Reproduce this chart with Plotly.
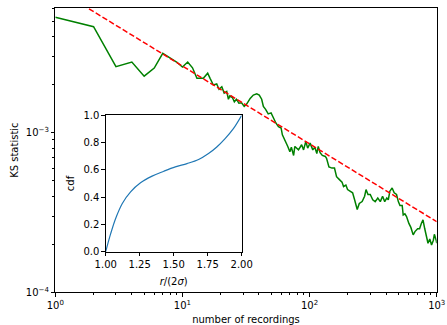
import plotly.graph_objects as go

# ---- main panel data ----
n_rec = [1, 2, 3, 4, 5, 6, 7, 8, 9, 10, 11, 12, 13, 14.6, 15.8, 16.5, 17.5, 18.6, 19.4,
         20.4, 21.3, 22.3, 23.0, 23.6, 24.7, 25.6, 26.6, 27.8, 29.2, 30.6, 32.0, 34.1,
         36.1, 38.4, 40.2, 42.0, 43.3, 45.1, 47.3, 49.8, 52.0, 54.3, 56.9, 59.7, 61.1,
         64.2, 67.4, 70.0, 71.9, 74.9, 76.6, 81.8, 86.6, 89.7, 93.4, 96.6, 101, 106,
         110, 114, 117, 121, 126, 133, 136, 142, 150, 157, 163, 171, 180, 185, 193,
         199, 208, 218, 226, 237, 246, 259, 271, 278, 288, 300, 314, 328, 344, 360,
         375, 390, 405, 416, 428, 446, 463, 483, 499, 514, 535, 545, 562, 579, 604,
         626, 653, 674, 708, 733, 757, 780, 805, 830, 854, 882, 911, 941, 958, 990,
         1000]
ks_milli = [5.28, 4.61, 2.59, 2.77, 2.26, 2.54, 3.14, 2.95, 2.77, 2.58, 2.77, 2.55, 2.19,
            2.19, 2.36, 2.19, 1.99, 2.02, 1.87, 1.94, 1.77, 1.81, 1.62, 1.70, 1.66, 1.56,
            1.62, 1.53, 1.54, 1.46, 1.51, 1.64, 1.72, 1.75, 1.72, 1.62, 1.46, 1.40, 1.31,
            1.33, 1.23, 1.15, 1.09, 1.07, 0.97, 0.90, 0.82, 0.76, 0.81, 0.72, 0.82, 0.78,
            0.84, 0.78, 0.88, 0.80, 0.86, 0.78, 0.81, 0.74, 0.82, 0.75, 0.72, 0.71, 0.69,
            0.61, 0.60, 0.60, 0.53, 0.51, 0.49, 0.46, 0.47, 0.44, 0.43, 0.42, 0.38, 0.33,
            0.36, 0.37, 0.40, 0.44, 0.41, 0.41, 0.38, 0.37, 0.39, 0.37, 0.40, 0.37, 0.39,
            0.38, 0.43, 0.45, 0.42, 0.41, 0.37, 0.35, 0.35, 0.305, 0.31, 0.298, 0.27,
            0.255, 0.229, 0.24, 0.25, 0.25, 0.27, 0.284, 0.25, 0.229, 0.203, 0.216,
            0.198, 0.212, 0.231, 0.212, 0.203]
ks = [v * 1e-3 for v in ks_milli]

fit_n = [1, 1000]
fit_ks = [8.04e-3, 2.77e-4]

# ---- inset data ----
r_over_2sigma = [1.0, 1.037, 1.073, 1.122, 1.183, 1.256, 1.341, 1.427, 1.512, 1.598,
                 1.683, 1.756, 1.817, 1.878, 1.939, 2.0]
cdf = [0.0, 0.134, 0.244, 0.354, 0.439, 0.505, 0.554, 0.590, 0.622, 0.646,
       0.676, 0.720, 0.768, 0.829, 0.902, 1.0]

x_major = [1, 10, 100, 1000]
x_major_text = ["10<sup>0</sup>", "10<sup>1</sup>", "10<sup>2</sup>", "10<sup>3</sup>"]
y_major = [1e-4, 1e-3]
y_major_text = ["10<sup>\u22124</sup>", "10<sup>\u22123</sup>"]

x_minor = [m * d for d in (1, 10, 100) for m in range(2, 10)]
y_minor = [m * d for d in (1e-4, 1e-3) for m in range(2, 10) if m * d < 6.1e-3]

FONT = "DejaVu Sans"

fig = go.Figure()
fig.add_trace(go.Scatter(x=n_rec, y=ks, mode="lines",
                         line=dict(color="#008000", width=1.5),
                         xaxis="x", yaxis="y", showlegend=False))
fig.add_trace(go.Scatter(x=fit_n, y=fit_ks, mode="lines",
                         line=dict(color="#ff0000", width=1.5, dash="5.5px,2.4px"),
                         xaxis="x", yaxis="y", showlegend=False))
fig.add_trace(go.Scatter(x=r_over_2sigma, y=cdf, mode="lines",
                         line=dict(color="#1f77b4", width=1.2, shape="spline"),
                         xaxis="x2", yaxis="y2", showlegend=False))

axis_common = dict(showgrid=False, zeroline=False, showline=True, linecolor="black",
                   linewidth=0.8, mirror=True, ticks="outside", ticklen=3.5,
                   tickwidth=0.8, tickcolor="black", automargin=False,
                   tickfont=dict(family=FONT, size=10, color="black"))

fig.update_layout(
    width=447, height=325,
    margin=dict(l=0, r=0, t=0, b=0, autoexpand=False),
    paper_bgcolor="white", plot_bgcolor="white",
    font=dict(family=FONT, size=10, color="black"),
    xaxis=dict(type="log", range=[0, 3], domain=[0.1237, 0.977],
               tickmode="array", tickvals=x_major, ticktext=x_major_text,
               minor=dict(tickmode="array", tickvals=x_minor, ticks="outside",
                          ticklen=2, tickwidth=0.6, tickcolor="black"),
               title=dict(text="number of recordings",
                          font=dict(family=FONT, size=10), standoff=8),
               anchor="y", **axis_common),
    yaxis=dict(type="log", range=[-4, -2.219], domain=[0.1006, 0.9754],
               tickmode="array", tickvals=y_major, ticktext=y_major_text,
               minor=dict(tickmode="array", tickvals=y_minor, ticks="outside",
                          ticklen=2, tickwidth=0.6, tickcolor="black"),
               title=dict(text="KS statistic",
                          font=dict(family=FONT, size=10), standoff=5),
               anchor="x", **axis_common),
    xaxis2=dict(range=[1, 2], domain=[0.2365, 0.5407], anchor="y2",
                tickmode="array", tickvals=[1.0, 1.25, 1.5, 1.75, 2.0],
                ticktext=["1.00", "1.25", "1.50", "1.75", "2.00"],
                title=dict(text="<i>r</i>/(2<i>\u03c3</i>)",
                           font=dict(family=FONT, size=10), standoff=8),
                **axis_common),
    yaxis2=dict(range=[0, 1], domain=[0.2255, 0.6452], anchor="x2",
                tickmode="array", tickvals=[0, 0.2, 0.4, 0.6, 0.8, 1.0],
                ticktext=["0.0", "0.2", "0.4", "0.6", "0.8", "1.0"],
                title=dict(text="cdf", font=dict(family=FONT, size=10), standoff=6),
                **axis_common),
)

fig.write_html("out.html")
